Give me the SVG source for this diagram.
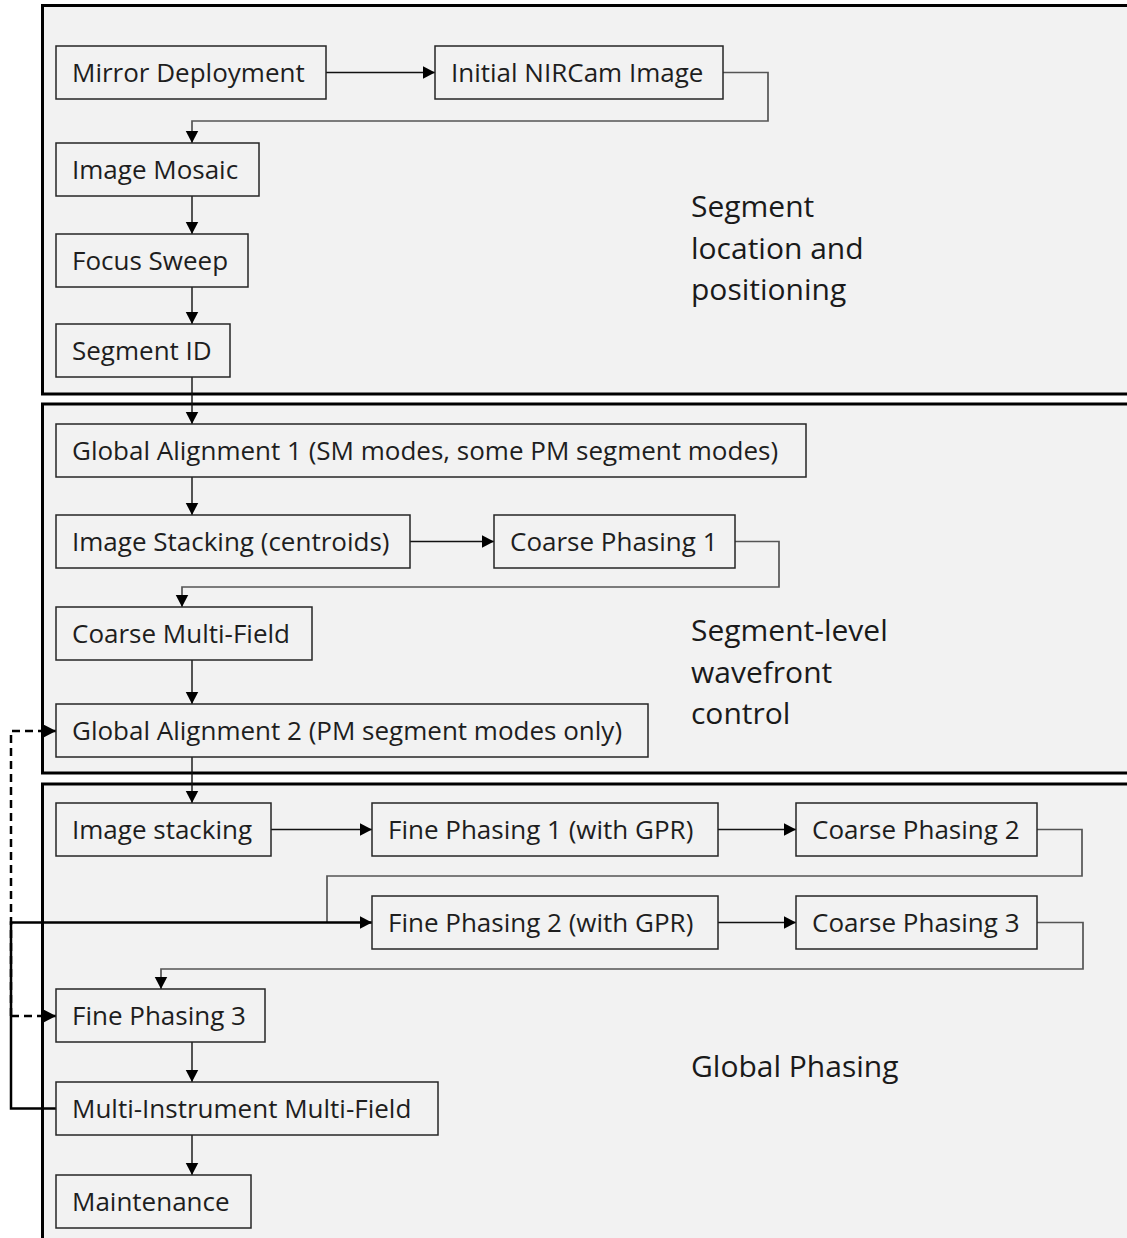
<svg xmlns="http://www.w3.org/2000/svg" width="1127" height="1238" viewBox="0 0 1127 1238">
<style>
  .panel{fill:#f2f2f2;stroke:#000;stroke-width:3}
  .box{fill:#f2f2f2;stroke:#262626;stroke-width:1.5}
  .t{font-family:"Open Sans","Liberation Sans",sans-serif;font-size:26px;fill:#1e1e1e}
  .lbl{font-family:"Open Sans","Liberation Sans",sans-serif;font-size:30px;fill:#1a1a1a}
  .c{fill:none;stroke:#111;stroke-width:1.4}
  .e{fill:none;stroke:#555;stroke-width:1.7}
  .fb{fill:none;stroke:#000;stroke-width:2.5}
  .d{fill:none;stroke:#000;stroke-width:2.5;stroke-dasharray:8 5}
</style>
<defs>
  <marker id="ah" markerUnits="userSpaceOnUse" markerWidth="14" markerHeight="14" refX="12.5" refY="6.5" orient="auto">
    <path d="M0,0 L12.5,6.5 L0,13 z" fill="#000"/>
  </marker>
</defs>
<rect width="1127" height="1238" fill="#ffffff"/>
<g id="panels">
  <g id="panel-location">
    <rect class="panel" x="42.5" y="5.5" width="1100" height="388.5"/>
    <text class="lbl" x="691" y="217">Segment</text>
    <text class="lbl" x="691" y="258.5">location and</text>
    <text class="lbl" x="691" y="300">positioning</text>
  </g>
  <g id="panel-wavefront">
    <rect class="panel" x="42.5" y="404" width="1100" height="369"/>
    <text class="lbl" x="691" y="641">Segment-level</text>
    <text class="lbl" x="691" y="682.5">wavefront</text>
    <text class="lbl" x="691" y="724">control</text>
  </g>
  <g id="panel-global">
    <rect class="panel" x="42.5" y="784" width="1100" height="470"/>
    <text class="lbl" x="691" y="1077">Global Phasing</text>
  </g>
</g>
<g id="connectors">
  <path class="c" d="M326,72.5 H435" marker-end="url(#ah)"/>
  <path class="e" d="M723,72.5 H768 V121 H192 V143" marker-end="url(#ah)"/>
  <path class="c" d="M192,196 V234" marker-end="url(#ah)"/>
  <path class="c" d="M192,287 V324" marker-end="url(#ah)"/>
  <path class="c" d="M192,377 V424" marker-end="url(#ah)"/>
  <path class="c" d="M192,477 V515" marker-end="url(#ah)"/>
  <path class="c" d="M410,541.5 H494" marker-end="url(#ah)"/>
  <path class="e" d="M735,541.5 H779 V587 H182 V607" marker-end="url(#ah)"/>
  <path class="c" d="M192,660 V704" marker-end="url(#ah)"/>
  <path class="c" d="M192,757 V803" marker-end="url(#ah)"/>
  <path class="c" d="M271,829.5 H372" marker-end="url(#ah)"/>
  <path class="c" d="M718,829.5 H796" marker-end="url(#ah)"/>
  <path class="e" d="M1037,829.5 H1082 V876 H327 V922.5"/>
  <path class="c" d="M718,922.5 H796" marker-end="url(#ah)"/>
  <path class="e" d="M1037,922.5 H1083 V969 H161 V989" marker-end="url(#ah)"/>
  <path class="c" d="M192,1042 V1082" marker-end="url(#ah)"/>
  <path class="c" d="M192,1135 V1175" marker-end="url(#ah)"/>
  <path class="fb" d="M56,1108.5 H11 V922.5 H372" marker-end="url(#ah)"/>
  <path class="d" d="M11,1016 V731 H56" marker-end="url(#ah)"/>
  <path class="d" d="M11,1016 H56" marker-end="url(#ah)"/>
</g>
<g id="n-mirror"><rect class="box" x="56" y="46" width="270" height="53"/><text class="t" x="72" y="82">Mirror Deployment</text></g>
<g id="n-nircam"><rect class="box" x="435" y="46" width="288" height="53"/><text class="t" x="451" y="82">Initial NIRCam Image</text></g>
<g id="n-mosaic"><rect class="box" x="56" y="143" width="203" height="53"/><text class="t" x="72" y="179">Image Mosaic</text></g>
<g id="n-focus"><rect class="box" x="56" y="234" width="192" height="53"/><text class="t" x="72" y="270">Focus Sweep</text></g>
<g id="n-segid"><rect class="box" x="56" y="324" width="174" height="53"/><text class="t" x="72" y="360">Segment ID</text></g>
<g id="n-ga1"><rect class="box" x="56" y="424" width="750" height="53"/><text class="t" x="72" y="460">Global Alignment 1 (SM modes, some PM segment modes)</text></g>
<g id="n-stack1"><rect class="box" x="56" y="515" width="354" height="53"/><text class="t" x="72" y="551">Image Stacking (centroids)</text></g>
<g id="n-cp1"><rect class="box" x="494" y="515" width="241" height="53"/><text class="t" x="510" y="551">Coarse Phasing 1</text></g>
<g id="n-cmf"><rect class="box" x="56" y="607" width="256" height="53"/><text class="t" x="72" y="643">Coarse Multi-Field</text></g>
<g id="n-ga2"><rect class="box" x="56" y="704" width="592" height="53"/><text class="t" x="72" y="740">Global Alignment 2 (PM segment modes only)</text></g>
<g id="n-stack2"><rect class="box" x="56" y="803" width="215" height="53"/><text class="t" x="72" y="839">Image stacking</text></g>
<g id="n-fp1"><rect class="box" x="372" y="803" width="346" height="53"/><text class="t" x="388" y="839">Fine Phasing 1 (with GPR)</text></g>
<g id="n-cp2"><rect class="box" x="796" y="803" width="241" height="53"/><text class="t" x="812" y="839">Coarse Phasing 2</text></g>
<g id="n-fp2"><rect class="box" x="372" y="896" width="346" height="53"/><text class="t" x="388" y="932">Fine Phasing 2 (with GPR)</text></g>
<g id="n-cp3"><rect class="box" x="796" y="896" width="241" height="53"/><text class="t" x="812" y="932">Coarse Phasing 3</text></g>
<g id="n-fp3"><rect class="box" x="56" y="989" width="209" height="53"/><text class="t" x="72" y="1025">Fine Phasing 3</text></g>
<g id="n-mimf"><rect class="box" x="56" y="1082" width="382" height="53"/><text class="t" x="72" y="1118">Multi-Instrument Multi-Field</text></g>
<g id="n-maint"><rect class="box" x="56" y="1175" width="195" height="53"/><text class="t" x="72" y="1211">Maintenance</text></g>
</svg>
